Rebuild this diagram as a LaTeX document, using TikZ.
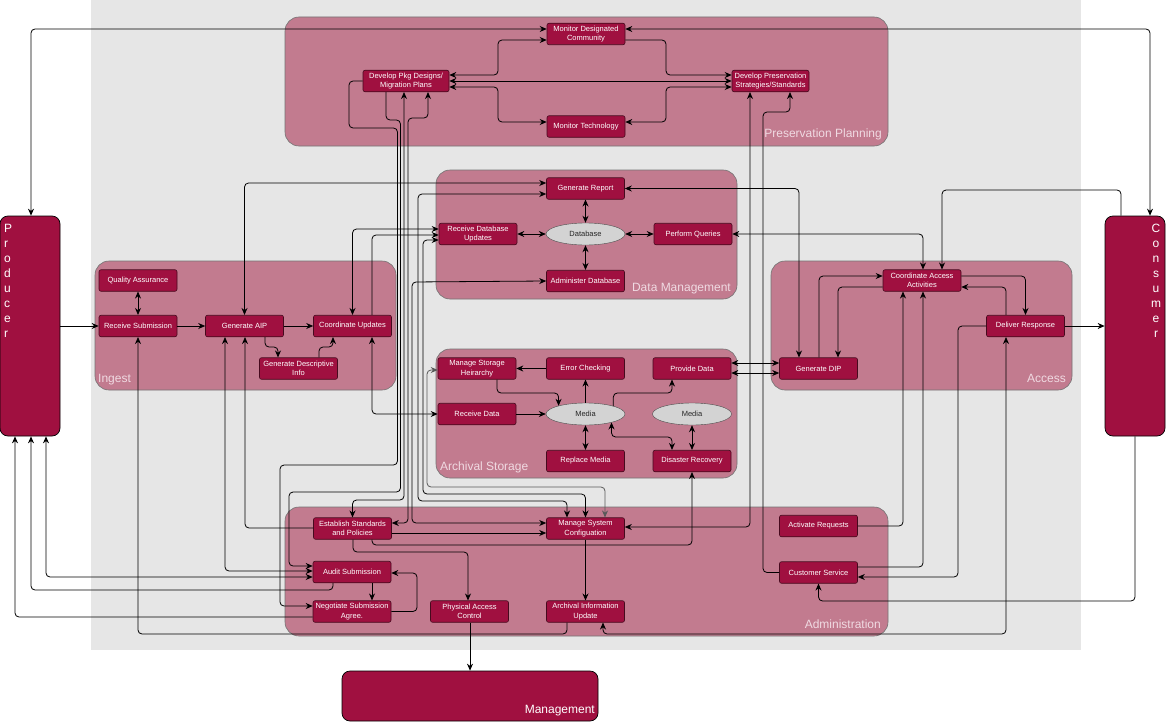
\documentclass[tikz,border=0pt]{standalone}
\usepackage{fontspec}
\setmainfont{Liberation Sans}
\usetikzlibrary{arrows.meta,shapes.geometric}
\definecolor{grpcol}{RGB}{194,123,143}
\definecolor{boxcol}{RGB}{160,16,64}
\definecolor{boxline}{RGB}{70,10,30}
\definecolor{bgcol}{RGB}{230,230,230}
\definecolor{ellcol}{RGB}{211,211,211}
\definecolor{lblcol}{RGB}{240,218,226}
\tikzset{
  grp/.style={draw=black!55, fill=grpcol, rounded corners=14pt, line width=0.6pt},
  grplbl/.style={text=lblcol, font=\fontsize{12}{14}\selectfont, inner sep=0pt},
  box/.style={draw=boxline, fill=boxcol, rounded corners=2pt, text=white, font=\fontsize{7.5}{9.5}\selectfont, align=center, minimum width=78pt, minimum height=21.5pt, inner sep=1pt, line width=0.6pt},
  ext/.style={draw=black, fill=boxcol, rounded corners=8pt, line width=0.7pt},
  ell/.style={ellipse, draw=black!70, fill=ellcol, minimum width=79pt, minimum height=22pt, inner sep=0pt, font=\fontsize{7.5}{9}\selectfont, text=black!85},
  conn/.style={draw=black, line width=0.8pt, rounded corners=4pt},
  arr/.style={conn, -{Stealth[length=7pt,width=6pt]}},
  darr/.style={conn, {Stealth[length=7pt,width=6pt]}-{Stealth[length=7pt,width=6pt]}},
  gdarr/.style={conn, draw=black!65, {Stealth[length=7pt,width=6pt]}-{Stealth[length=7pt,width=6pt]}},
}
\begin{document}
\begin{tikzpicture}[x=1pt,y=-1pt]
\useasboundingbox (0,0) rectangle (1167,725);
\fill[white] (0,0) rectangle (1167,725);
\fill[bgcol] (91,0) rectangle (1081,650);
% groups
\draw[grp] (285,17) rectangle (888,146);
\draw[grp] (436,170) rectangle (737,299);
\draw[grp] (95,261) rectangle (396,390);
\draw[grp] (436,349) rectangle (737,478);
\draw[grp] (771,261) rectangle (1072,390);
\draw[grp] (285,507) rectangle (888,636);
\node[grplbl, anchor=base east] (lpp) at (882,137) {Preservation Planning};
\node[grplbl, anchor=base east] (ldm) at (731,291) {Data Management};
\node[grplbl, anchor=base west] (ling) at (98,382) {Ingest};
\node[grplbl, anchor=base west] (las) at (440,470) {Archival Storage};
\node[grplbl, anchor=base east] (lacc) at (1066,382) {Access};
\node[grplbl, anchor=base east] (ladm) at (881,628) {Administration};
% external entities
\node[ext, minimum width=60pt, minimum height=220pt] (prod) at (30,326) {};
\node[ext, minimum width=60pt, minimum height=220pt] (cons) at (1135,326) {};
\node[ext, minimum width=256pt, minimum height=50pt] (mgmt) at (470,696) {};
\node[text=white, font=\fontsize{12}{15}\selectfont, align=left, anchor=north west, inner sep=0pt] (prodlbl) at (4,224) {P\\r\\o\\d\\u\\c\\e\\r};
\node[text=white, font=\fontsize{12}{15}\selectfont, align=center, anchor=north, inner sep=0pt] (conslbl) at (1156,224) {C\\o\\n\\s\\u\\m\\e\\r};
\node[text=white, font=\fontsize{12}{14}\selectfont, anchor=base east, inner sep=0pt] (mgmtlbl) at (595,713) {Management};
% Preservation Planning
\node[box] (mdc) at (586,34) {Monitor Designated\\Community};
\node[box, minimum width=86pt] (dpd) at (406,81) {Develop Pkg Designs/\\Migration Plans};
\node[box] (mt) at (586,126.5) {Monitor Technology};
\node[box, minimum width=77pt] (dps) at (770.5,81) {Develop Preservation\\Strategies/Standards};
% Data Management
\node[box] (gr) at (585.5,188.5) {Generate Report};
\node[box] (rdu) at (478,234) {Receive Database\\Updates};
\node[ell] (db) at (585.5,234) {Database};
\node[box] (pq) at (693,234) {Perform Queries};
\node[box] (ad) at (585.5,281) {Administer Database};
% Ingest
\node[box] (qa) at (138,280.5) {Quality Assurance};
\node[box] (rs) at (138,326) {Receive Submission};
\node[box] (gaip) at (244.5,326) {Generate AIP};
\node[box] (cu) at (352.5,326) {Coordinate Updates};
\node[box] (gdi) at (298.5,368.5) {Generate Descriptive\\Info};
% Archival Storage
\node[box] (msh) at (477,368.5) {Manage Storage\\Heirarchy};
\node[box] (ec) at (585.5,368.5) {Error Checking};
\node[box] (pd) at (692,368.5) {Provide Data};
\node[box] (rd) at (477,414) {Receive Data};
\node[ell] (media) at (585.5,414) {Media};
\node[ell] (media2) at (692,414) {Media};
\node[box] (rm) at (585.5,461) {Replace Media};
\node[box] (dr) at (692,461) {Disaster Recovery};
% Access
\node[box] (caa) at (922,280.5) {Coordinate Access\\Activities};
\node[box] (dresp) at (1025.5,326) {Deliver Response};
\node[box] (gdip) at (818.5,368.5) {Generate DIP};
% Administration
\node[box] (esp) at (352.5,528.5) {Establish Standards\\and Policies};
\node[box] (msc) at (585.5,528.5) {Manage System\\Configuation};
\node[box] (as) at (352,572) {Audit Submission};
\node[box] (nsa) at (352,611.5) {Negotiate Submission\\Agree.};
\node[box] (pac) at (469.5,611.5) {Physical Access\\Control};
\node[box] (aiu) at (585.5,611.5) {Archival Information\\Update};
\node[box] (ar) at (818.5,526) {Activate Requests};
\node[box] (cs) at (818.5,572.5) {Customer Service};
% ---- connectors: Preservation Planning
\draw[darr] (mdc.west |- 0,29) -| (prod.north -| 31,0);
\draw[darr] (mdc.east |- 0,29) -| (cons.north -| 1150,0);
\draw[arr] (mdc.east |- 0,40) -- (666,40) |- (dps.west |- 0,75);
\draw[darr] (dpd.east |- 0,81) -- (dps.west |- 0,81);
\draw[darr] (dpd.east |- 0,75) -- (498,75) |- (mdc.west |- 0,40);
\draw[darr] (dpd.east |- 0,87) -- (498,87) |- (mt.west |- 0,122);
\draw[darr] (mt.east |- 0,122) -- (666,122) |- (dps.west |- 0,87);
\draw[darr] (dps.south -| 750,0) |- (msc.east |- 0,527);
\draw[arr] (cs.west) -- (763,572.5) -- (763,112) -| (dps.south -| 790,0);
% Data Management
\draw[darr] (gaip.north) |- (gr.west |- 0,183);
\draw[darr] (gr.east) -| (gdip.north -| 799,0);
\draw[darr] (gr.south) -- (db.north);
\draw[darr] (db.south) -- (ad.north);
\draw[darr] (rdu.east) -- (db.west);
\draw[darr] (db.east) -- (pq.west);
\draw[darr] (pq.east) -| (caa.north -| 923,0);
\draw[arr] (cons.north -| 1121,0) -- (1121,190) -| (caa.north -| 942,0);
% Ingest
\draw[darr] (qa.south) -- (rs.north);
\draw[arr] (prod.east) -- (rs.west);
\draw[arr] (rs.east) -- (gaip.west);
\draw[arr] (gaip.east) -- (cu.west);
\draw[arr] (gaip.south -| 265,0) -- (265,347) -| (gdi.north -| 278,0);
\draw[arr] (gdi.north -| 319,0) -- (319,347) -| (cu.south -| 333,0);
\draw[darr] (cu.south -| 372,0) |- (rd.west);
\draw[arr] (cu.north -| 372,0) |- (rdu.west |- 0,235);
\draw[darr] (rdu.west |- 0,229) -| (cu.north);
\draw[arr] (aiu.south -| 567,0) -- (567,634) -| (rs.south);
\draw[darr] (dresp.south -| 1006,0) -- (1006,634) -| (aiu.south -| 603,0);
% Administration / Producer
\draw[arr] (esp.west |- 0,528) -| (gaip.south -| 245,0);
\draw[darr] (gaip.south -| 225,0) |- (as.west |- 0,571);
\draw[darr] (prod.south -| 46,0) |- (as.west |- 0,577);
\draw[arr] (as.south -| 333,0) -- (333,590) -| (prod.south -| 31,0);
\draw[arr] (nsa.west |- 0,617) -| (prod.south -| 15,0);
\draw[arr] (as.south -| 372,0) -- (nsa.north -| 372,0);
\draw[arr] (nsa.east) -- (417,611.5) |- (as.east |- 0,573);
\draw[arr] (esp.east |- 0,533) -- (msc.west |- 0,533);
\draw[arr] (esp.south -| 353,0) -- (353,552) -| (pac.north -| 468,0);
\draw[arr] (esp.south -| 372,0) -- (372,545) -| (dr.south);
\draw[arr] (pac.south -| 470,0) -- (mgmt.north -| 470,0);
\draw[arr] (msc.south) -- (aiu.north);
\draw[arr] (ar.east) -| (caa.south -| 903,0);
\draw[arr] (cs.east |- 0,567) -| (caa.south -| 923,0);
\draw[arr] (dresp.west) -- (958,326) |- (cs.east |- 0,577);
\draw[arr] (cons.south -| 1135,0) -- (1135,601) -| (cs.south);
\draw[arr] (dresp.east) -- (cons.west);
% Access
\draw[arr] (caa.east |- 0,276) -| (dresp.north);
\draw[arr] (dresp.north -| 1006,0) |- (caa.east |- 0,287);
\draw[arr] (gdip.north -| 819,0) |- (caa.west |- 0,276);
\draw[arr] (caa.west |- 0,287) -| (gdip.north -| 838,0);
\draw[darr] (pd.east |- 0,363) -- (gdip.west |- 0,363);
\draw[darr] (pd.east |- 0,373) -- (gdip.west |- 0,373);
% Archival Storage
\draw[arr] (ec.west) -- (msh.east);
\draw[arr] (msh.south -| 497,0) -- (497,393) -| (media.163);
\draw[arr] (rd.east) -- (media.west);
\draw[arr] (media.north) -- (ec.south);
\draw[arr] (media.16) |- (672,393) -- (pd.south -| 672,0);
\draw[darr] (media.south) -- (rm.north);
\draw[darr] (media.-18) |- (672,437) -- (dr.north -| 672,0);
\draw[darr] (media2.south) -- (dr.north);
\draw[gdarr] (msh.west |- 0,370) -- (427,370) -- (427,487) -| (msc.north -| 605,0);
% bundle between the groups
\draw[arr] (dpd.west) -- (349,81) -- (349,128) -- (397.5,128) -- (397.5,465) -- (280,465) |- (nsa.west |- 0,606);
\draw[arr] (dpd.south -| 386,0) -- (386,120) -- (400.5,120) -- (400.5,492) -- (289,492) |- (as.west |- 0,566);
\draw[darr] (dpd.south -| 404,0) -- (404,500) -| (esp.north);
\draw[darr] (dpd.south -| 428,0) -- (428,118) -- (408,118) |- (esp.east |- 0,523);
\draw[darr] (ad.west) -- (412,282) |- (msc.west |- 0,523);
\draw[darr] (gr.west |- 0,194) -- (418,194) -- (418,501) -| (msc.north -| 567,0);
\draw[darr] (rdu.west |- 0,240) -- (423,240) -- (423,494) -| (msc.north);
\end{tikzpicture}
\end{document}
